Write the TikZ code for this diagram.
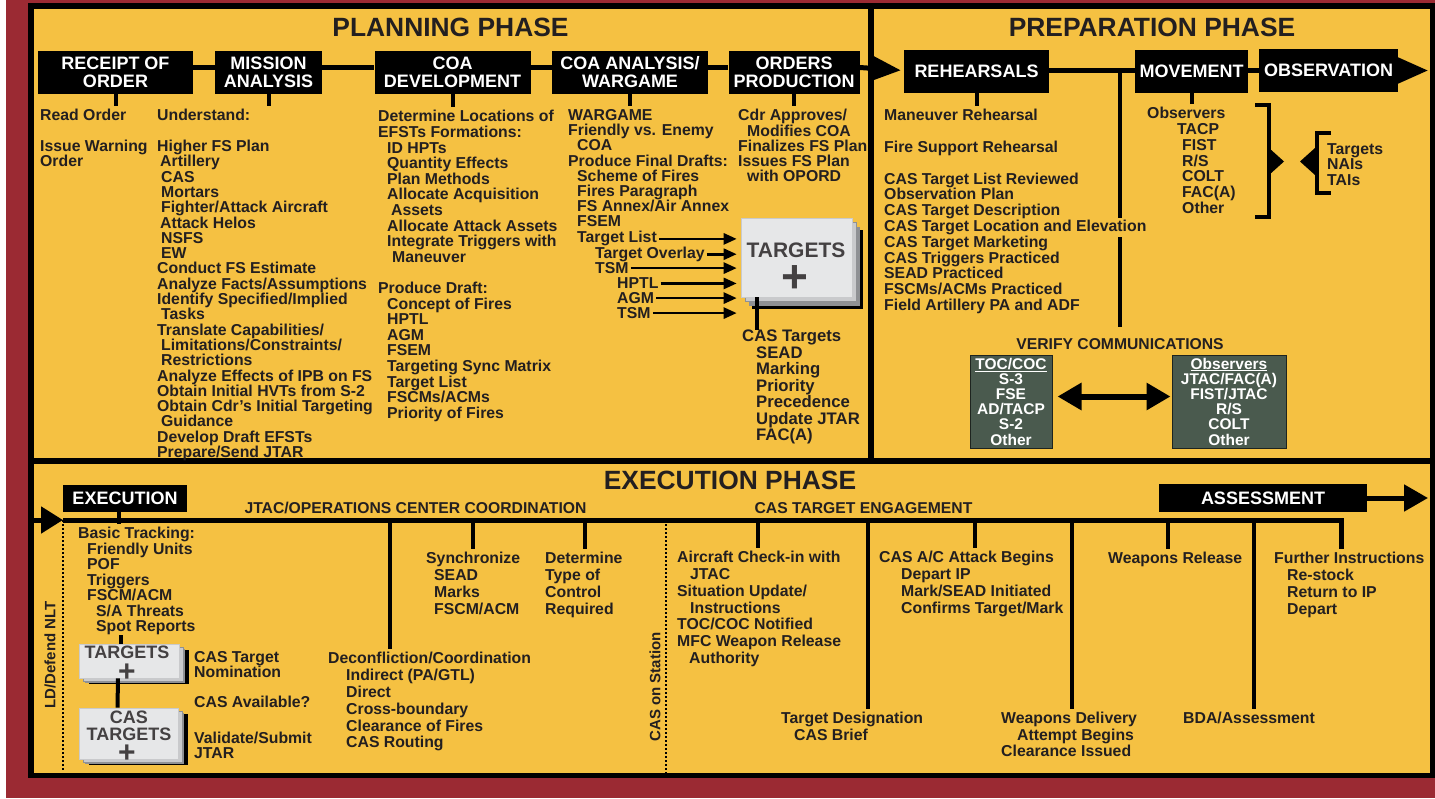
\documentclass[tikz,border=0pt]{standalone}
\usepackage{fontspec}
\setmainfont{Liberation Sans}
\usetikzlibrary{arrows.meta,shadows}

\definecolor{frame}{HTML}{9B2A33}
\definecolor{panel}{HTML}{F5C142}
\definecolor{ink}{HTML}{231F20}
\definecolor{comm}{HTML}{4A5A4E}
\definecolor{cardfill}{HTML}{E6E7E8}
\definecolor{litegrey}{HTML}{C9CACC}
\definecolor{shadegrey}{HTML}{8F9194}

\newcommand\pfont[2]{\fontsize{#1}{#2}\selectfont\bfseries}
\newcommand\indt[1]{\hspace*{#1pt}}

\tikzset{
  hdbox/.style={fill=black, text=white, font={\pfont{18}{18}}, align=center, inner sep=0pt},
  lst/.style={anchor=north west, yshift=11.4pt, align=left, inner sep=0pt, text=ink, font={\pfont{15.8}{#1}}},
  lst/.default=15.3,
  ttl/.style={font={\pfont{26.4}{28}}, text=ink},
  sect/.style={font={\pfont{15.7}{16}}, text=ink},
  rot/.style={rotate=90, font={\pfont{15}{15}}, text=ink},
  spine/.style={line width=5pt},
  stem/.style={line width=4pt, shorten >=3pt},
  tarr/.style={line width=2.6pt, -{Triangle[length=13pt,width=11pt]}, shorten <=2pt, shorten >=4pt},
  dbl/.style={line width=6pt, {Triangle[length=24pt,width=26pt]}-{Triangle[length=24pt,width=26pt]}, shorten <=5pt, shorten >=1pt},
  dotline/.style={line width=2.2pt, dash pattern=on 2pt off 2pt},
  commbox/.style={fill=comm, draw=black!60!comm, line width=1pt, text=white, align=center, inner sep=0pt, font={\pfont{15.5}{15.2}}},
  bigcard/.style={fill=cardfill, draw=litegrey, line width=.6pt, inner sep=0pt,
    general shadow={fill=black, draw=none, shadow xshift=11pt, shadow yshift=-12pt},
    general shadow={fill=shadegrey, draw=none, shadow xshift=8pt, shadow yshift=-9pt},
    general shadow={fill=litegrey, draw=shadegrey, shadow xshift=4pt, shadow yshift=-4pt}},
  smallcard/.style={fill=cardfill, draw=litegrey, line width=.6pt, inner sep=0pt,
    general shadow={fill=black, draw=none, shadow xshift=10pt, shadow yshift=-6pt},
    general shadow={fill=shadegrey, draw=none, shadow xshift=6pt, shadow yshift=-5pt},
    general shadow={fill=litegrey, draw=shadegrey, shadow xshift=4pt, shadow yshift=-3pt}},
  crdtxt/.style={text=ink!85, inner sep=0pt}
}

\begin{document}
\begin{tikzpicture}[x=1pt,y=-1pt]
\useasboundingbox (0,0) rectangle (1435,798);
% frame and the three panels
\fill[frame] (6,0) rectangle (1435,798);
\fill[black] (28,3) rectangle (1435,778);
\fill[panel] (34,9) rectangle (868,458);
\fill[panel] (874,9) rectangle (1430,458);
\fill[panel] (34,464) rectangle (1430,773);

\coordinate (spn) at (0,67.5);
\coordinate (spq) at (0,70.5);
\coordinate (pend) at (1428,70.5);

% planning phase
\node[ttl] (plph) at (450.5,27) {PLANNING PHASE};
\node[hdbox, minimum width=155pt, minimum height=43pt] (rec) at (115.5,72.5) {RECEIPT OF\\ORDER};
\node[hdbox, minimum width=107pt, minimum height=43pt] (mis) at (268.5,72.5) {MISSION\\ANALYSIS};
\node[hdbox, minimum width=156pt, minimum height=43pt] (coa) at (452.5,72.5) {COA\\DEVELOPMENT};
\node[hdbox, minimum width=156pt, minimum height=43pt] (war) at (630,72.5) {COA ANALYSIS/\\WARGAME};
\node[hdbox, minimum width=131pt, minimum height=43pt] (ord) at (794,72.5) {ORDERS\\PRODUCTION};

\node[lst] (rdo) at (40,120.7) {Read Order\\[15.3pt]Issue Warning\\Order};
\node[lst] (mal) at (157,120.7) {Understand:\\[15.3pt]Higher FS Plan\\\indt3Artillery\\\indt4CAS\\\indt4Mortars\\
  \indt4Fighter/Attack Aircraft\\\indt3Attack Helos\\\indt4NSFS\\\indt4EW\\Conduct FS Estimate\\
  Analyze Facts/Assumptions\\Identify Specified/Implied\\\indt4Tasks\\Translate Capabilities/\\
  \indt4Limitations/Constraints/\\\indt4Restrictions\\Analyze Effects of IPB on FS\\
  Obtain Initial HVTs from S-2\\Obtain Cdr’s Initial Targeting\\\indt4Guidance\\
  Develop Draft EFSTs\\Prepare/Send JTAR};
\node[lst=15.6] (cdl) at (378,121.7) {Determine Locations of\\EFSTs Formations:\\\indt9ID HPTs\\
  \indt9Quantity Effects\\\indt9Plan Methods\\\indt9Allocate Acquisition\\\indt{13}Assets\\
  \indt9Allocate Attack Assets\\\indt9Integrate Triggers with\\\indt{14}Maneuver\\[15.6pt]
  Produce Draft:\\\indt9Concept of Fires\\\indt9HPTL\\\indt9AGM\\\indt9FSEM\\
  \indt9Targeting Sync Matrix\\\indt9Target List\\\indt9FSCMs/ACMs\\\indt9Priority of Fires};
\node[lst=15.2] (wgl) at (568,120.7) {WARGAME\\Friendly vs. Enemy\\\indt9COA\\Produce Final Drafts:\\
  \indt9Scheme of Fires\\\indt9Fires Paragraph\\\indt9FS Annex/Air Annex\\\indt9FSEM};
\node[lst] (tl1) at (577,242.7) {Target List};
\node[lst] (tov) at (595,258) {Target Overlay};
\node[lst] (ts1) at (595,273.7) {TSM};
\node[lst] (hp) at (617,289.2) {HPTL};
\node[lst] (ag) at (617,303.7) {AGM};
\node[lst] (ts2) at (617,318.7) {TSM};
\node[lst=15.2] (opl) at (738,120.7) {Cdr Approves/\\\indt9Modifies COA\\Finalizes FS Plan\\Issues FS Plan\\\indt9with OPORD};

\node[bigcard, minimum width=111pt, minimum height=79pt] (tgt) at (796.5,257.5) {};
\node[crdtxt, font={\pfont{21}{21}}] (tgtl) at (796,250) {TARGETS};
\node[crdtxt, font={\pfont{46}{46}}] (tgtp) at (795,279.5) {+};
\node[lst, yshift=0.6pt, font={\pfont{16.7}{16.5}}] (cas) at (742,342) {CAS Targets\\\indt{14}SEAD\\\indt{14}Marking\\
  \indt{14}Priority\\\indt{14}Precedence\\\indt{14}Update JTAR\\\indt{14}FAC(A)};

\foreach \a/\b in {rec/mis, mis/coa, coa/war, war/ord}
  \draw[spine] (\a.east |- spn) -- (\b.west |- spn);
\foreach \a/\b in {rec/rdo, mis/mal, coa/cdl, war/wgl, ord/opl}
  \draw[stem] (\a.south) -- (\a.south |- \b.north);
\foreach \n in {tl1, tov, ts1, hp, ag, ts2}
  \draw[tarr] (\n.east) -- (tgt.west |- \n.east);
\draw[stem, shorten >=0pt] ([xshift=16pt]tgt.south west) -- ([xshift=16pt]tgt.south west |- cas.north);

% preparation phase
\node[ttl] (prph) at (1152,27) {PREPARATION PHASE};
\node[hdbox, minimum width=145pt, minimum height=43pt] (reh) at (976.5,71.5) {REHEARSALS};
\node[hdbox, minimum width=113pt, minimum height=43pt] (mov) at (1191.5,71.5) {MOVEMENT};
\node[hdbox, minimum width=139pt, minimum height=43pt] (obs) at (1328.5,70.5) {OBSERVATION};

\draw[spine, -{Triangle[length=30pt,width=25pt]}, shorten >=3pt] (ord.east |- spn) -- (reh.west |- spq);
\draw[spine] (reh.east |- spq) -- (mov.west |- spq);
\draw[spine] (mov.east |- spq) -- (obs.west |- spq);
\draw[spine, -{Triangle[length=30pt,width=25pt]}] (obs.east |- spq) -- (pend);

\node[lst=15.8] (rhl) at (884,120.7) {Maneuver Rehearsal\\[15.8pt]Fire Support Rehearsal\\[15.8pt]
  CAS Target List Reviewed\\Observation Plan\\CAS Target Description\\CAS Target Location and Elevation\\
  CAS Target Marketing\\CAS Triggers Practiced\\SEAD Practiced\\FSCMs/ACMs Practiced\\Field Artillery PA and ADF};
\node[lst=15.7] (obl) at (1147,118.7) {Observers\\\indt{30}TACP\\\indt{35}FIST\\\indt{35}R/S\\
  \indt{35}COLT\\\indt{35}FAC(A)\\\indt{35}Other};
\node[lst=15.5] (tnt) at (1327,154.7) {Targets\\NAIs\\TAIs};
\draw[stem] (reh.south) -- (reh.south |- rhl.north);
\draw[stem] (mov.south) -- (mov.south |- obl.north);

% brackets between observers and targets
\draw[line width=3.5pt] (1255,105) -- (1269,105) -- (1269,217) -- (1255,217);
\fill (1269,148) -- (1284,161.5) -- (1269,175) -- cycle;
\fill (1315,148) -- (1300,161.5) -- (1315,175) -- cycle;
\draw[line width=3.5pt] (1331,133) -- (1317,133) -- (1317,193) -- (1331,193);

\node[sect] (vc) at (1120,344) {VERIFY COMMUNICATIONS};
\coordinate (elv) at (0,218);
\coordinate (elb) at (0,237);
\draw[stem, shorten >=0pt] (vc.north |- spq) -- (vc.north |- elv);
\draw[stem, shorten >=8pt] (vc.north |- elb) -- (vc.north);
\node[commbox, minimum width=82pt, minimum height=93pt] (toc) at (1011,401.5) {\underline{TOC/COC}\\S-3\\FSE\\AD/TACP\\S-2\\Other};
\node[commbox, minimum width=114pt, minimum height=93pt] (obsb) at (1229,401.5) {\underline{Observers}\\JTAC/FAC(A)\\FIST/JTAC\\R/S\\COLT\\Other};
\draw[dbl] ([yshift=5pt]toc.east) -- ([yshift=5pt]obsb.west);

% execution phase
\node[ttl] (exph) at (730,480) {EXECUTION PHASE};
\node[hdbox, minimum width=124pt, minimum height=27pt] (exe) at (125,498.5) {EXECUTION};
\node[hdbox, minimum width=208pt, minimum height=28pt] (asm) at (1263,498) {ASSESSMENT};
\node[sect] (jtc) at (415.5,508) {JTAC/OPERATIONS CENTER COORDINATION};
\node[sect] (cte) at (863.5,508) {CAS TARGET ENGAGEMENT};
\coordinate (ent) at (34,520);
\coordinate (ld) at (63,520);
\coordinate (cos) at (666,520);
\coordinate (aend) at (1428,498);

\node[rot] (ldn) at (50,655) {LD/Defend NLT};
\node[rot] (cosl) at (655,687) {CAS on Station};

\node[lst=15.5] (bt) at (78,538.7) {Basic Tracking:\\\indt9Friendly Units\\\indt9POF\\\indt9Triggers\\
  \indt9FSCM/ACM\\\indt{18}S/A Threats\\\indt{18}Spot Reports};
\node[smallcard, minimum width=100pt, minimum height=34pt] (tg1) at (129,661) {};
\node[crdtxt, font={\pfont{18}{18}}] (tg1l) at (127,652.5) {TARGETS};
\node[crdtxt, font={\pfont{30}{30}}] (tg1p) at (127,673) {+};
\node[smallcard, minimum width=99pt, minimum height=51pt] (tg2) at (128.5,733.5) {};
\node[crdtxt, font={\pfont{18}{18}}] (tg2a) at (129,717) {CAS};
\node[crdtxt, font={\pfont{18}{18}}] (tg2l) at (129,734.5) {TARGETS};
\node[crdtxt, font={\pfont{30}{30}}] (tg2p) at (127,754) {+};
\node[lst=15] (ctn) at (194,662.7) {CAS Target\\Nomination};
\node[lst] (cav) at (194,707.7) {CAS Available?};
\node[lst=15] (vsj) at (194,743.7) {Validate/Submit\\JTAR};

\node[lst=16.7] (syn) at (426,563.7) {Synchronize\\\indt8SEAD\\\indt8Marks\\\indt8FSCM/ACM};
\node[lst=16.7] (det) at (545,563.7) {Determine\\Type of\\Control\\Required};
\node[lst=16.8] (dec) at (328,663.7) {Deconfliction/Coordination\\\indt{18}Indirect (PA/GTL)\\
  \indt{18}Direct\\\indt{18}Cross-boundary\\\indt{18}Clearance of Fires\\\indt{18}CAS Routing};
\node[lst=16.7] (acw) at (677,562.7) {Aircraft Check-in with\\\indt{13}JTAC\\Situation Update/\\
  \indt{13}Instructions\\TOC/COC Notified\\MFC Weapon Release\\\indt{12}Authority};
\node[lst=16.7] (tds) at (781,723.7) {Target Designation\\\indt{13}CAS Brief};
\node[lst=16.7] (caa) at (879,562.7) {CAS A/C Attack Begins\\\indt{22}Depart IP\\
  \indt{22}Mark/SEAD Initiated\\\indt{22}Confirms Target/Mark};
\node[lst=16.5] (wdl) at (1001,723.7) {Weapons Delivery\\\indt{16}Attempt Begins\\Clearance Issued};
\node[lst] (wrl) at (1108,563.7) {Weapons Release};
\node[lst] (bda) at (1183,723.7) {BDA/Assessment};
\node[lst=16.7] (fur) at (1274,563.7) {Further Instructions\\\indt{13}Re-stock\\\indt{13}Return to IP\\\indt{13}Depart};

% timeline
\draw[spine, -{Triangle[length=22pt,width=26pt]}] (ent) -- (ld);
\draw[spine, shorten >=3pt] (ld) -| ([xshift=-8pt]fur.north);
\draw[spine, -{Triangle[length=24pt,width=26pt]}] (asm.east) -- (aend);
\draw[dotline] (ld) -- ++(0,250);
\draw[dotline] (cos) -- ++(0,255);
\draw[stem] ([xshift=-6pt]exe.south) -- ([xshift=-6pt]exe.south |- bt.north);
\foreach \n/\x in {dec/390, syn/473, det/585, acw/758, tds/868, caa/975, wdl/1072, wrl/1168, bda/1254} {
  \coordinate (t\n) at (\x,520);
  \draw[stem] (t\n) -- (t\n |- \n.north);
}
\draw[stem, shorten >=0pt] ([xshift=-8pt]tg1.north |- bt.south) -- ([xshift=-8pt]tg1.north);
\draw[stem, shorten >=0pt] ([xshift=-11pt]tg1.south) -- ([xshift=-11pt]tg2.north);
\end{tikzpicture}
\end{document}
